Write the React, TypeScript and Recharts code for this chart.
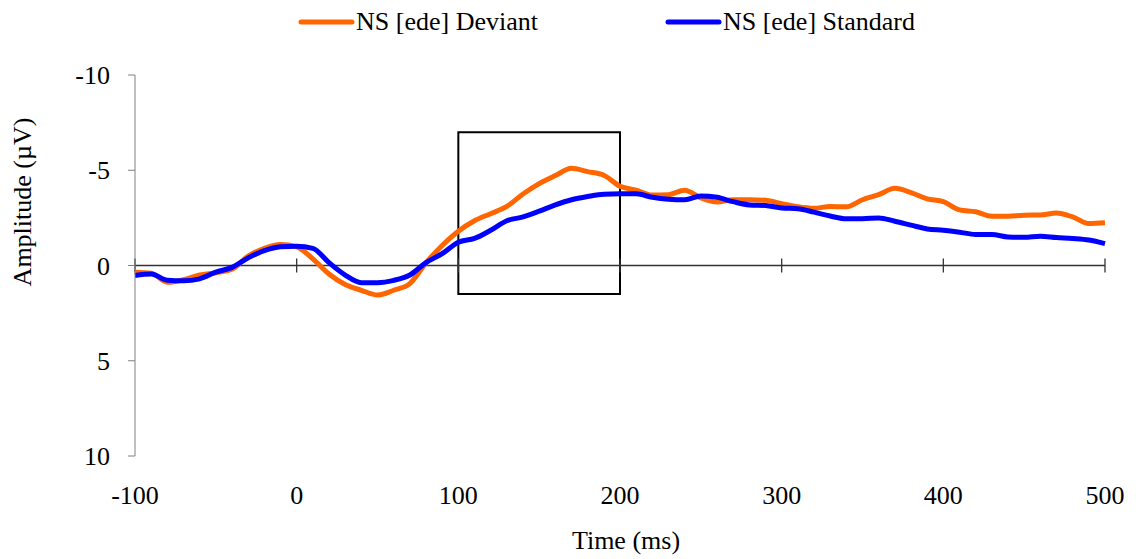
import React from "react";
import { LineChart, Line, XAxis, YAxis, ReferenceLine, ReferenceArea, Label } from "recharts";

// time axis (ms), one sample every 10 ms
const times = [
  -100, -90, -80, -70, -60, -50, -40, -30, -20, -10,
  0, 10, 20, 30, 40, 50, 60, 70, 80, 90,
  100, 110, 120, 130, 140, 150, 160, 170, 180, 190,
  200, 210, 220, 230, 240, 250, 260, 270, 280, 290,
  300, 310, 320, 330, 340, 350, 360, 370, 380, 390,
  400, 410, 420, 430, 440, 450, 460, 470, 480, 490,
  500,
];

// amplitudes in µV (negative up)
const deviant = [
  0.35, 0.4, 0.88, 0.75, 0.5, 0.38, 0.2, -0.5, -0.9, -1.1,
  -0.98, -0.35, 0.45, 1.0, 1.3, 1.55, 1.3, 0.95, -0.14, -1.05,
  -1.8, -2.35, -2.72, -3.1, -3.75, -4.3, -4.72, -5.1, -4.93, -4.74,
  -4.16, -3.95, -3.7, -3.72, -3.95, -3.55, -3.33, -3.45, -3.45, -3.42,
  -3.25, -3.08, -3.0, -3.1, -3.08, -3.45, -3.72, -4.05, -3.83, -3.5,
  -3.35, -2.92, -2.82, -2.59, -2.59, -2.64, -2.65, -2.76, -2.55, -2.2,
  -2.24,
];

const standard = [
  0.52, 0.45, 0.77, 0.8, 0.7, 0.35, 0.1, -0.4, -0.78, -0.98,
  -1.01, -0.9, -0.15, 0.5, 0.9, 0.9, 0.78, 0.5, -0.15, -0.62,
  -1.22, -1.42, -1.85, -2.35, -2.55, -2.85, -3.18, -3.45, -3.62, -3.74,
  -3.76, -3.76, -3.58, -3.48, -3.45, -3.65, -3.58, -3.35, -3.18, -3.15,
  -3.02, -2.98, -2.8, -2.6, -2.45, -2.45, -2.5, -2.32, -2.12, -1.92,
  -1.85, -1.75, -1.63, -1.63, -1.5, -1.48, -1.54, -1.47, -1.42, -1.34,
  -1.15,
];

const xTicks = [-100, 0, 100, 200, 300, 400, 500];
const yTicks = [-10, -5, 0, 5, 10];

const data = times.map((t, i) => ({ t, deviant: deviant[i], standard: standard[i] }));

const FONT = "'Times New Roman', 'Liberation Serif', 'DejaVu Serif', Times, serif";
const FS = 26;
const ORANGE = "#FF6600";
const BLUE = "#0000FF";

const LegendItem = ({ color, text }: { color: string; text: string }) => (
  <div style={{ display: "flex", alignItems: "center" }}>
    <svg width={57} height={10}>
      <line x1={3} y1={5} x2={54} y2={5} stroke={color} strokeWidth={5} strokeLinecap="round" />
    </svg>
    <span style={{ fontSize: FS, fontFamily: FONT, color: "#000", marginLeft: 1 }}>{text}</span>
  </div>
);

export default function App() {
  return (
    <div style={{ position: "absolute", left: 0, top: 0, width: 1139, height: 559, background: "#fff", fontFamily: FONT }}>
      <div style={{ position: "absolute", left: 298, top: 7, display: "flex" }}>
        <LegendItem color={ORANGE} text="NS [ede] Deviant" />
        <div style={{ width: 127 }} />
        <LegendItem color={BLUE} text="NS [ede] Standard" />
      </div>
      <LineChart
        width={1139}
        height={559}
        data={data}
        margin={{ top: 75, right: 34, bottom: 43, left: 75 }}
        style={{ fontFamily: FONT }}
      >
        <XAxis
          dataKey="t"
          type="number"
          domain={[-100, 500]}
          ticks={xTicks}
          axisLine={false}
          tickLine={false}
          tickSize={0}
          tickMargin={30}
          height={60}
          tick={{ fill: "#000", fontSize: FS, fontFamily: FONT }}
        >
          <Label
            content={(props: any) => {
              const vb = props.viewBox;
              return (
                <text
                  x={vb.x + vb.width / 2 + 6}
                  y={vb.y + 93}
                  textAnchor="middle"
                  fontSize={FS}
                  fontFamily={FONT}
                  fill="#000"
                >
                  Time (ms)
                </text>
              );
            }}
          />
        </XAxis>
        <YAxis
          type="number"
          domain={[-10, 10]}
          ticks={yTicks}
          reversed
          width={60}
          stroke="#808080"
          tickSize={7}
          tickMargin={18}
          tick={{ fill: "#000", fontSize: FS, fontFamily: FONT }}
        >
          <Label
            content={() => (
              <text
                x={22}
                y={202}
                transform="rotate(-90 22 202)"
                textAnchor="middle"
                dominantBaseline="central"
                fontSize={FS}
                fontFamily={FONT}
                fill="#000"
              >
                Amplitude (µV)
              </text>
            )}
          />
        </YAxis>
        <ReferenceLine y={0} stroke="#333" strokeWidth={1.3} />
        {xTicks.map((t) => (
          <ReferenceLine
            key={t}
            segment={[
              { x: t, y: -0.37 },
              { x: t, y: 0.37 },
            ]}
            stroke="#333"
            strokeWidth={1.3}
          />
        ))}
        <ReferenceArea x1={100} x2={200} y1={-7} y2={1.5} fill="none" stroke="#000" strokeWidth={2} fillOpacity={0} />
        <Line
          type="monotone"
          dataKey="deviant"
          stroke={ORANGE}
          strokeWidth={5}
          dot={false}
          isAnimationActive={false}
        />
        <Line
          type="monotone"
          dataKey="standard"
          stroke={BLUE}
          strokeWidth={5}
          dot={false}
          isAnimationActive={false}
        />
      </LineChart>
    </div>
  );
}
